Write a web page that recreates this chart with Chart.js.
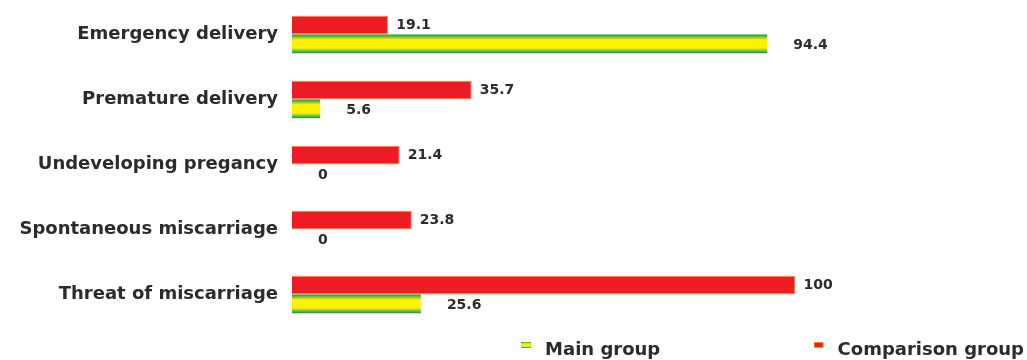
<!DOCTYPE html>
<html>
<head>
<meta charset="utf-8">
<script src="https://cdn.jsdelivr.net/npm/chart.js@4/dist/chart.umd.min.js"></script>
<style>
  html, body { margin: 0; padding: 0; background: #ffffff; }
  #wrap { width: 1027px; height: 360px; position: relative; }
</style>
</head>
<body>
<div id="wrap"><canvas id="c"></canvas></div>
<script>
const categories = ['Emergency delivery', 'Premature delivery', 'Undeveloping pregancy', 'Spontaneous miscarriage', 'Threat of miscarriage'];
const comparisonGroup = [19.1, 35.7, 21.4, 23.8, 100];
const mainGroup = [94.4, 5.6, 0, 0, 25.6];
const seriesNames = ['Comparison group', 'Main group'];

const CAT_PCT = 0.575;
const TEXT = '#2b2b2b';
const FONT = 'DejaVu Sans';

function stripeGradient(ctx, y0, y1) {
  const g = ctx.createLinearGradient(0, y0, 0, y1);
  g.addColorStop(0, '#138f45');
  g.addColorStop(0.12, '#6dbf45');
  g.addColorStop(0.28, '#fff200');
  g.addColorStop(0.72, '#fff200');
  g.addColorStop(0.88, '#6dbf45');
  g.addColorStop(1, '#138f45');
  return g;
}

function legendImage(kind) {
  const cv = document.createElement('canvas');
  cv.width = 15; cv.height = 16;
  const c = cv.getContext('2d');
  if (kind === 'main') {
    c.fillStyle = stripeGradient(c, 0, 6);
    c.fillRect(0, 0, 10, 6);
  } else {
    c.fillStyle = '#f7941d';
    c.fillRect(0, 0, 10, 6);
    c.fillStyle = '#ed1c24';
    c.fillRect(1, 1, 8, 4);
  }
  return cv;
}

const valueLabels = {
  id: 'valueLabels',
  afterDatasetsDraw(chart) {
    const ctx = chart.ctx;
    ctx.save();
    ctx.font = 'bold 14px "' + FONT + '"';
    ctx.fillStyle = TEXT;
    ctx.textBaseline = 'middle';
    ctx.textAlign = 'left';
    chart.data.datasets.forEach((ds, di) => {
      const meta = chart.getDatasetMeta(di);
      const off = di === 0 ? 8 : 26;
      const dy = di === 0 ? 0 : 2;
      meta.data.forEach((el, i) => {
        ctx.fillText(String(ds.data[i]), el.x + off, el.y + dy);
      });
    });
    ctx.restore();
  }
};

new Chart(document.getElementById('c'), {
  type: 'bar',
  data: {
    labels: categories,
    datasets: [
      {
        label: seriesNames[0],
        data: comparisonGroup,
        backgroundColor: '#ed1c24',
        borderColor: '#f7941d',
        borderWidth: 1,
        categoryPercentage: CAT_PCT,
        barPercentage: 1
      },
      {
        label: seriesNames[1],
        data: mainGroup,
        backgroundColor: (context) => {
          const chart = context.chart;
          const ys = chart.scales && chart.scales.y;
          if (!ys || context.type !== 'data' || !isFinite(ys.top)) return '#fff200';
          const band = (ys.bottom - ys.top) / categories.length;
          const h = band * CAT_PCT / 2;
          const c = ys.getPixelForValue(context.dataIndex);
          return stripeGradient(chart.ctx, c, c + h);
        },
        borderWidth: 0,
        categoryPercentage: CAT_PCT,
        barPercentage: 1
      }
    ]
  },
  options: {
    indexAxis: 'y',
    responsive: true,
    maintainAspectRatio: false,
    animation: false,
    layout: { padding: { top: 2, right: 0, bottom: 0, left: 0 } },
    scales: {
      x: {
        display: true,
        min: 0, max: 146,
        grid: { display: false },
        border: { display: false },
        ticks: { display: false },
        afterFit(scale) { scale.height = 11; }
      },
      y: {
        grid: { display: true, color: 'transparent', drawTicks: true, tickLength: 14, drawOnChartArea: false },
        border: { display: false },
        ticks: {
          color: TEXT,
          padding: 0,
          font: { family: FONT, size: 18, weight: 'bold', lineHeight: 0.2 }
        },
        afterFit(scale) { scale.width = 292; }
      }
    },
    plugins: {
      tooltip: { enabled: false },
      legend: {
        position: 'bottom',
        align: 'end',
        maxHeight: 22,
        labels: {
          color: TEXT,
          padding: 3,
          usePointStyle: true,
          pointStyleWidth: 15,
          font: { family: FONT, size: 18, weight: 'bold' },
          generateLabels(chart) {
            return [
              { text: seriesNames[1] + ' '.repeat(24), pointStyle: legendImage('main'), fillStyle: '#fff200', strokeStyle: 'transparent', lineWidth: 0, fontColor: TEXT, datasetIndex: 1, hidden: false },
              { text: seriesNames[0], pointStyle: legendImage('comp'), fillStyle: '#ed1c24', strokeStyle: 'transparent', lineWidth: 0, fontColor: TEXT, datasetIndex: 0, hidden: false }
            ];
          }
        }
      }
    }
  },
  plugins: [valueLabels]
});
</script>
</body>
</html>
